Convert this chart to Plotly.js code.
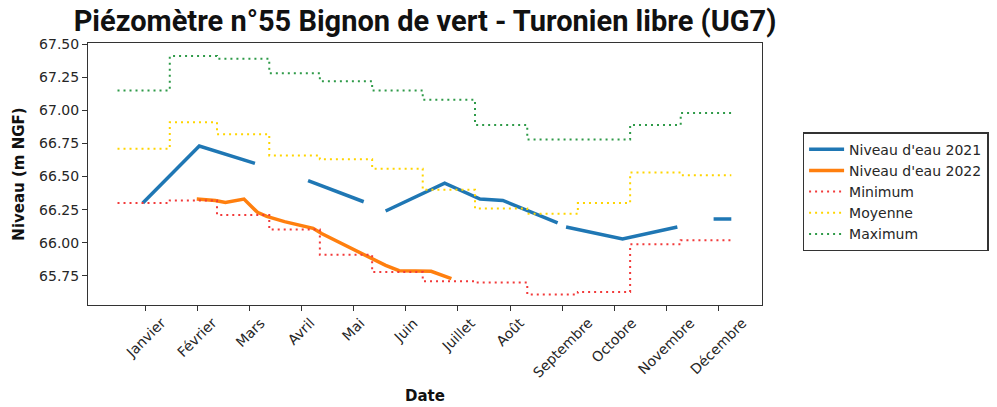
<!DOCTYPE html>
<html>
<head>
<meta charset="utf-8">
<script src="https://cdn.plot.ly/plotly-3.0.1.min.js"></script>
<style>
  html, body { margin: 0; padding: 0; background: #fff; }
</style>
</head>
<body>
<div id="chart" style="width:997px;height:407px;"></div>
<script>
// Piezometer n°55 - daily x axis (day of year), monthly stats as steps

// month boundaries (day of year) for the min / mean / max steps
let month_start = [1, 32, 60, 91, 121, 152, 182, 213, 244, 274, 305, 335];
let year_end = 365;

let level_min  = [66.30, 66.32, 66.21, 66.10, 65.91, 65.78, 65.71, 65.70, 65.61, 65.63, 65.99, 66.02];
let level_mean = [66.71, 66.91, 66.82, 66.66, 66.63, 66.56, 66.40, 66.26, 66.22, 66.30, 66.53, 66.51];
let level_max  = [67.15, 67.41, 67.39, 67.28, 67.22, 67.15, 67.08, 66.89, 66.78, 66.78, 66.89, 66.98];

// measured levels (null = no measurement, line is broken)
let day_2021   = [16, 49.5, 82.5, 98, 114, 147, 153, 160, 195, 216, 229.5, 262, 264, 267, 300.5, 333, 344, 354.5, 365];
let level_2021 = [66.30, 66.73, 66.60, null, 66.47, 66.31, null, 66.24, 66.45, 66.33, 66.32, 66.15, null, 66.12, 66.03, 66.12, null, 66.18, 66.18];

let day_2022   = [48, 59, 65, 76, 84, 89.5, 100, 117, 122, 148, 160, 168, 187, 199];
let level_2022 = [66.33, 66.32, 66.305, 66.33, 66.23, 66.20, 66.16, 66.11, 66.07, 65.91, 65.83, 65.79, 65.785, 65.73];

// x tick labels
let month_names = ['Janvier', 'Février', 'Mars', 'Avril', 'Mai', 'Juin', 'Juillet', 'Août',
                   'Septembre', 'Octobre', 'Novembre', 'Décembre'];
let month_ticks = [17.5, 48.4, 79.3, 110.2, 141.1, 172, 202.9, 233.8, 264.7, 295.6, 326.5, 357.4];

var tickFont = {family: 'DejaVu Sans', size: 14, color: '#262626'};

function stepTrace(name, values, color) {
  return {
    x: month_start.concat([year_end]),
    y: values.concat([values[values.length - 1]]),
    name: name,
    type: 'scatter',
    mode: 'lines',
    line: {color: color, width: 2, dash: '2px,4px', shape: 'hv'}
  };
}

var trace1 = {
  x: day_2021,
  y: level_2021,
  name: "Niveau d'eau 2021",
  type: 'scatter',
  mode: 'lines',
  connectgaps: false,
  line: {color: '#1f77b4', width: 3.5}
};

var trace2 = {
  x: day_2022,
  y: level_2022,
  name: "Niveau d'eau 2022",
  type: 'scatter',
  mode: 'lines',
  line: {color: '#ff7f0e', width: 3.5}
};

var data = [
  trace1,
  trace2,
  stepTrace('Minimum', level_min, '#f23a3a'),
  stepTrace('Moyenne', level_mean, '#ffd500'),
  stepTrace('Maximum', level_max, '#2e9a48')
];

// rotated month labels, centred under each tick like matplotlib does
var monthLabels = month_names.map(function (m, i) {
  return {
    x: month_ticks[i], xref: 'x',
    y: 0, yref: 'paper', yshift: -7,
    text: m, textangle: -45,
    xanchor: 'center', yanchor: 'top',
    showarrow: false,
    font: tickFont
  };
});

var layout = {
  width: 997,
  height: 407,
  margin: {l: 88, r: 235, t: 43, b: 102},
  paper_bgcolor: '#fff',
  plot_bgcolor: '#fff',
  title: {
    text: 'Piézomètre n°55 Bignon de vert - Turonien libre (UG7)',
    font: {family: 'Roboto', size: 29, color: '#111', weight: 'bold'},
    x: 0.5, xref: 'paper', xanchor: 'center',
    y: 0.948, yref: 'container', yanchor: 'middle'
  },
  xaxis: {
    range: [-16.5, 383.2],
    tickvals: month_ticks,
    showticklabels: false,
    ticks: 'outside', ticklen: 5, tickcolor: '#333',
    showgrid: false, zeroline: false,
    showline: true, mirror: true, linecolor: '#333', linewidth: 1,
    title: {
      text: 'Date', standoff: 80,
      font: {family: 'DejaVu Sans', size: 15, color: '#111', weight: 'bold'}
    }
  },
  yaxis: {
    range: [65.531, 67.508],
    tick0: 65.75, dtick: 0.25, tickformat: '.2f',
    ticks: 'outside', ticklen: 5, tickcolor: '#333',
    tickfont: tickFont,
    showgrid: false, zeroline: false,
    showline: true, mirror: true, linecolor: '#333', linewidth: 1,
    title: {
      text: 'Niveau (m NGF)', standoff: 10,
      font: {family: 'DejaVu Sans', size: 15, color: '#111', weight: 'bold'}
    }
  },
  showlegend: true,
  legend: {
    x: 0.805, xref: 'container', xanchor: 'left',
    y: 0.66, yanchor: 'top',
    bgcolor: '#fff',
    bordercolor: '#333', borderwidth: 1.5,
    font: {family: 'DejaVu Sans', size: 14, color: '#262626'},
    itemwidth: 35
  },
  annotations: monthLabels
};

Plotly.newPlot('chart', data, layout, {displayModeBar: false, staticPlot: true});
</script>
</body>
</html>
